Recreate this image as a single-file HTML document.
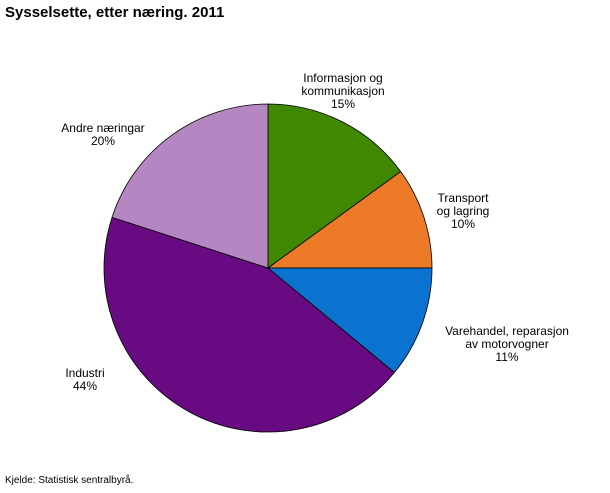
<!DOCTYPE html>
<html><head><meta charset="utf-8"><style>
body{margin:0;background:#fff;font-family:"Liberation Sans",sans-serif;}
</style></head><body>
<svg width="610" height="488" xmlns="http://www.w3.org/2000/svg">
<text x="5" y="17" font-size="15" font-weight="bold" fill="#000">Sysselsette, etter næring. 2011</text>
<g id="slices"></g>
<g id="labels" font-size="12" fill="#000" text-anchor="middle"></g>
<text x="5" y="483" font-size="10" fill="#000">Kjelde: Statistisk sentralbyrå.</text>
</svg>
<script>
const categories=["Informasjon og kommunikasjon","Transport og lagring","Varehandel, reparasjon av motorvogner","Industri","Andre næringar"];
const values=[15,10,11,44,20];
const colors=["#3f8800","#ec7a27","#0a72cf","#680a82","#b487c3"];
const labelLines=[["Informasjon og","kommunikasjon"],["Transport","og lagring"],["Varehandel, reparasjon","av motorvogner"],["Industri"],["Andre næringar"]];
const labelPos=[[343,82],[463,202],[507,335],[85,377],[103,132]];
const cx=268,cy=268,r=164;
const total=values.reduce((a,b)=>a+b,0);
const ns="http://www.w3.org/2000/svg";
const gs=document.getElementById("slices"),gl=document.getElementById("labels");
function pt(a){return [cx+r*Math.sin(a),cy-r*Math.cos(a)];}
let acc=0;
values.forEach((v,i)=>{
 const a0=acc/total*2*Math.PI;acc+=v;const a1=acc/total*2*Math.PI;
 const p0=pt(a0),p1=pt(a1);
 const p=document.createElementNS(ns,"path");
 p.setAttribute("d",`M${cx},${cy}L${p0[0]},${p0[1]}A${r},${r} 0 ${a1-a0>Math.PI?1:0} 1 ${p1[0]},${p1[1]}Z`);
 p.setAttribute("fill",colors[i]);p.setAttribute("stroke","#000");p.setAttribute("stroke-width","0.8");
 
 
 gs.appendChild(p);
 const t=document.createElementNS(ns,"text");
 
 
 const lines=labelLines[i].concat([Math.round(v/total*100)+"%"]);
 lines.forEach((s,j)=>{const ts=document.createElementNS(ns,"tspan");ts.setAttribute("x",labelPos[i][0]);ts.setAttribute("y",labelPos[i][1]+j*13);ts.textContent=s;t.appendChild(ts);});
 gl.appendChild(t);
});
</script>
</body></html>
